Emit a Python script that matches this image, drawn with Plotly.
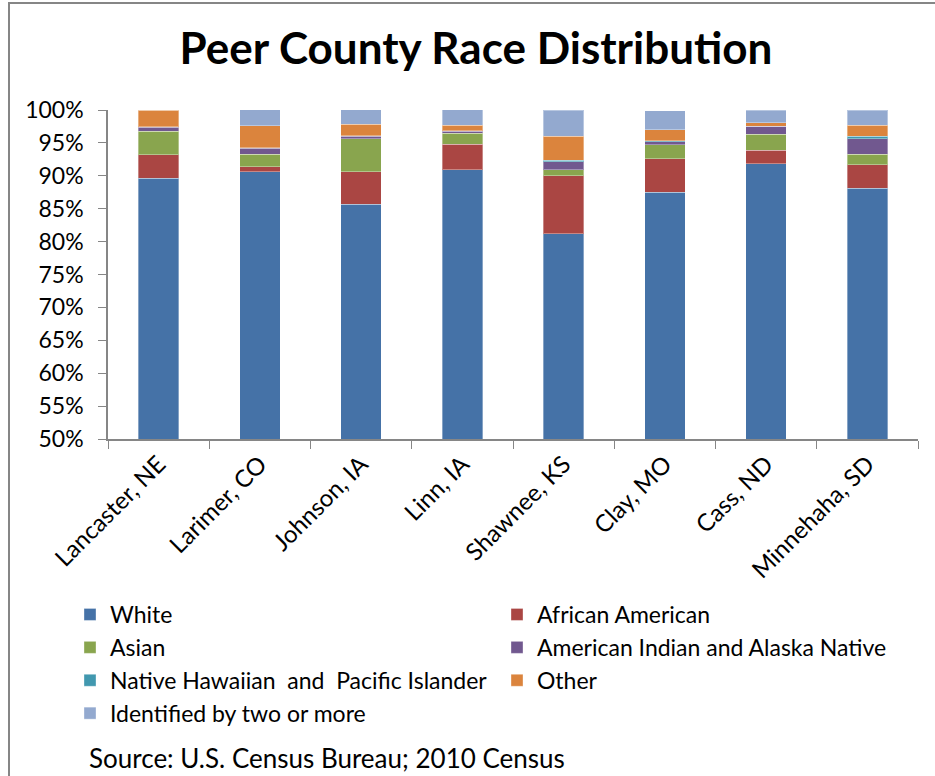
import plotly.graph_objects as go

# Counties and race shares (percent of population, 2010 Census)
counties = ["Lancaster, NE", "Larimer, CO", "Johnson, IA", "Linn, IA",
            "Shawnee, KS", "Clay, MO", "Cass, ND", "Minnehaha, SD"]

white = [89.6, 90.6, 85.7, 90.9, 81.2, 87.5, 91.8, 88.1]
african_american = [3.6, 0.8, 4.9, 3.9, 8.8, 5.1, 2.1, 3.6]
asian = [3.6, 1.9, 5.0, 1.7, 0.9, 2.1, 2.4, 1.6]
american_indian = [0.6, 0.9, 0.4, 0.3, 1.2, 0.5, 1.2, 2.3]
native_hawaiian = [0.05, 0.1, 0.05, 0.02, 0.3, 0.1, 0.05, 0.4]
other = [2.55, 3.3, 1.8, 0.9, 3.6, 1.7, 0.55, 1.7]
two_or_more = [0.0, 2.5, 2.3, 2.3, 4.0, 2.9, 1.9, 2.3]

# (name, values, colour, legend column)
series = [
    ("White", white, "#4572A7", "legend"),
    ("African American", african_american, "#AA4643", "legend2"),
    ("Asian", asian, "#89A54E", "legend"),
    ("American Indian and Alaska Native", american_indian, "#71588F", "legend2"),
    ("Native Hawaiian  and  Pacific Islander", native_hawaiian, "#4198AF", "legend"),
    ("Other", other, "#DB843D", "legend2"),
    ("Identified by two or more", two_or_more, "#93A9CF", "legend"),
]

y_ticks = list(range(50, 101, 5))
y_tick_text = [f"{t}%" for t in y_ticks]

FONT = "Lato, 'Open Sans', sans-serif"
W, H = 935, 776
ML, MR, MT, MB = 108, 17, 110, 337

fig = go.Figure()
for name, vals, color, leg in series:
    fig.add_trace(go.Bar(
        x=counties, y=vals, name=name, legend=leg,
        marker=dict(color=color, line=dict(color="rgba(255,255,255,0.35)", width=1)),
    ))

legend_common = dict(
    orientation="v",
    xref="container", yref="container",
    yanchor="top", xanchor="left",
    font=dict(family=FONT, size=23, color="#000000"),
    traceorder="normal",
    bgcolor="rgba(0,0,0,0)",
)

fig.update_layout(
    width=W, height=H,
    margin=dict(l=ML, r=MR, t=MT, b=MB, autoexpand=False),
    barmode="stack",
    bargap=0.6,
    plot_bgcolor="white",
    paper_bgcolor="white",
    font=dict(family=FONT, size=23, color="#000000"),
    title=dict(
        text="<b>Peer County Race Distribution</b>",
        x=476 / W, xanchor="center",
        y=1 - 49 / H, yanchor="middle",
        font=dict(family=FONT, size=44, color="#000000"),
    ),
    xaxis=dict(
        showline=True, linecolor="#868686", linewidth=1.5,
        ticks="outside", tickson="boundaries", ticklen=8, tickcolor="#868686",
        tickangle=-45, tickfont=dict(size=24),
        showgrid=False, automargin=False,
    ),
    yaxis=dict(
        range=[50, 100],
        tickvals=y_ticks, ticktext=y_tick_text,
        showline=True, linecolor="#868686", linewidth=1.5,
        ticks="outside", ticklen=8, tickcolor="#868686",
        tickfont=dict(size=23),
        showgrid=False, zeroline=False, automargin=False,
        ticklabelstandoff=10,
    ),
    legend=dict(legend_common, x=70 / W, y=1 - 593 / H),
    legend2=dict(legend_common, x=497 / W, y=1 - 593 / H),
    showlegend=True,
)

# Chart frame (left and top edges fall inside the page)
pw = W - ML - MR
ph = H - MT - MB
fig.add_shape(
    type="rect", xref="paper", yref="paper",
    x0=(9 - ML) / pw, x1=(W + 20 - ML) / pw,
    y0=-(H + 20 - MT - ph) / ph, y1=1 + (MT - 3) / ph,
    line=dict(color="#868686", width=2), fillcolor="rgba(0,0,0,0)",
    layer="below",
)

fig.add_annotation(
    text="Source: U.S. Census Bureau; 2010 Census",
    xref="paper", yref="paper",
    x=(87 - ML) / pw, xanchor="left",
    y=-(758 - MT - ph) / ph, yanchor="middle",
    showarrow=False,
    font=dict(family=FONT, size=26, color="#000000"),
)

fig.write_html("out.html")
